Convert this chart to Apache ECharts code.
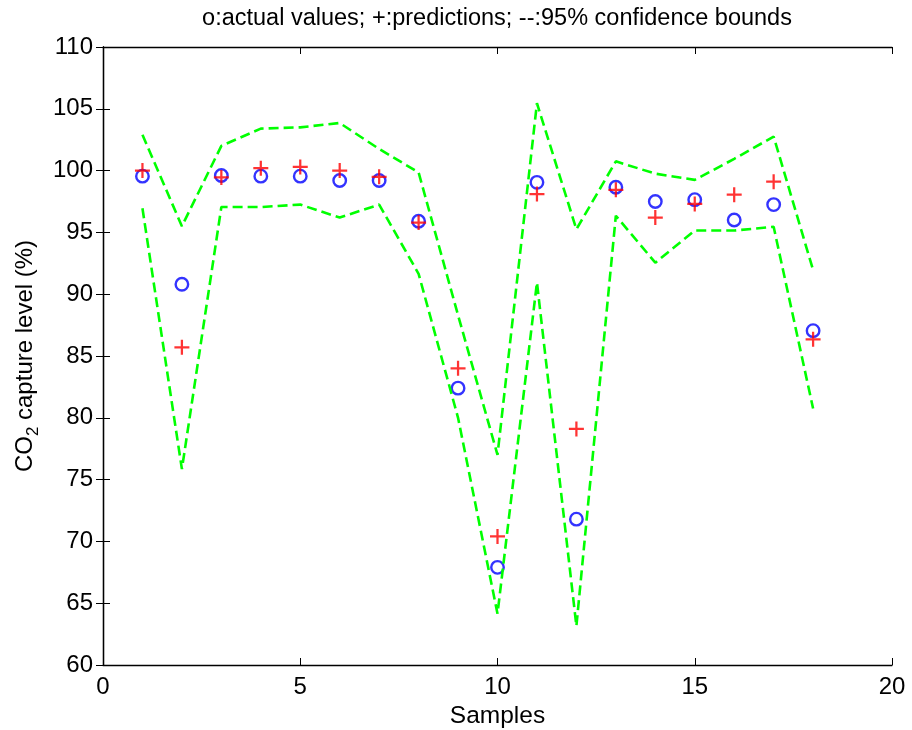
<!DOCTYPE html>
<html>
<head>
<meta charset="utf-8">
<script src="https://cdn.jsdelivr.net/npm/echarts@6/dist/echarts.min.js"></script>
<style>
  html, body { margin: 0; padding: 0; background: #fff; }
  #chart { width: 912px; height: 730px; }
</style>
</head>
<body>
<div id="chart"></div>
<script>
// Sample indices along the x axis
var samples = [1, 2, 3, 4, 5, 6, 7, 8, 9, 10, 11, 12, 13, 14, 15, 16, 17, 18];
// Measured CO2 capture level (%)
var actualValues = [99.55, 90.8, 99.6, 99.55, 99.55, 99.2, 99.2, 95.9, 82.4, 67.9, 99.05, 71.8, 98.65, 97.5, 97.65, 96.0, 97.25, 87.05];
// Model predictions (%)
var predictions = [100.0, 85.7, 99.45, 100.2, 100.3, 100.0, 99.5, 95.8, 84.0, 70.4, 98.1, 79.1, 98.45, 96.2, 97.3, 98.05, 99.1, 86.35];
// 95% confidence bounds (%)
var upperBound = [102.9, 95.5, 102.0, 103.4, 103.5, 103.85, 101.75, 99.85, 88.3, 77.0, 105.45, 95.25, 100.75, 99.75, 99.25, 100.95, 102.75, 91.95];
var lowerBound = [96.95, 75.85, 97.05, 97.05, 97.25, 96.2, 97.25, 91.65, 80.0, 64.15, 90.95, 63.15, 96.35, 92.55, 95.15, 95.15, 95.45, 80.75];
// Axis tick settings
var xTicks = [0, 5, 10, 15, 20];
var yTicks = [60, 65, 70, 75, 80, 85, 90, 95, 100, 105, 110];

function pairs(xs, ys) {
  return xs.map(function (x, i) { return [x, ys[i]]; });
}

var FONT = '"Liberation Sans", Arial, Helvetica, sans-serif';
var PLUS = 'path://M0,8.5H8.5V0H11.5V8.5H20V11.5H11.5V20H8.5V11.5H0Z';

var xMin = xTicks[0], xMax = xTicks[xTicks.length - 1], xStep = xTicks[1] - xTicks[0];
var yMin = yTicks[0], yMax = yTicks[yTicks.length - 1], yStep = yTicks[1] - yTicks[0];

var axisLine = { show: true, lineStyle: { color: '#000', width: 1.3 } };
var tick = { show: true, inside: true, length: 7, lineStyle: { color: '#000', width: 1 } };

var chart = echarts.init(document.getElementById('chart'), null, { renderer: 'canvas' });
chart.setOption({
  animation: false,
  backgroundColor: '#fff',
  title: {
    text: 'o:actual values; +:predictions; --:95% confidence bounds',
    left: 492,
    top: 2,
    textAlign: 'center',
    textStyle: { fontFamily: FONT, fontSize: 23.5, fontWeight: 'normal', color: '#000' }
  },
  grid: { left: 103, right: 20, top: 47, bottom: 65, outerBoundsMode: 'none', containLabel: false },
  xAxis: [
    {
      type: 'value', min: xMin, max: xMax, interval: xStep, position: 'bottom',
      name: 'Samples', nameLocation: 'middle', nameGap: 37,
      nameTextStyle: { fontFamily: FONT, fontSize: 24.5, color: '#000' },
      axisLine: axisLine, axisTick: tick, splitLine: { show: false },
      axisLabel: { fontFamily: FONT, fontSize: 24, color: '#000', margin: 10 }
    },
    {
      type: 'value', min: xMin, max: xMax, interval: xStep, position: 'top',
      axisLine: axisLine, axisTick: tick, splitLine: { show: false },
      axisLabel: { show: false }
    }
  ],
  yAxis: [
    {
      type: 'value', min: yMin, max: yMax, interval: yStep, position: 'left',
      name: '{n|CO}{s|2}{n| capture level (%)}', nameLocation: 'middle', nameGap: 60,
      nameRotate: 90,
      nameTextStyle: {
        fontFamily: FONT, color: '#000',
        rich: {
          n: { fontFamily: FONT, fontSize: 24, color: '#000', lineHeight: 34 },
          s: { fontFamily: FONT, fontSize: 17, color: '#000', lineHeight: 34, verticalAlign: 'bottom', padding: [20, 0, 0, 0] }
        }
      },
      axisLine: axisLine, axisTick: tick, splitLine: { show: false },
      axisLabel: { fontFamily: FONT, fontSize: 24, color: '#000', margin: 10 }
    },
    {
      type: 'value', min: yMin, max: yMax, interval: yStep, position: 'right',
      axisLine: axisLine, axisTick: tick, splitLine: { show: false },
      axisLabel: { show: false }
    }
  ],
  series: [
    {
      name: 'upper', type: 'line', data: pairs(samples, upperBound),
      symbol: 'none', silent: true,
      lineStyle: { color: '#00ff00', width: 2.6, type: [10, 5] }
    },
    {
      name: 'lower', type: 'line', data: pairs(samples, lowerBound),
      symbol: 'none', silent: true,
      lineStyle: { color: '#00ff00', width: 2.6, type: [10, 5] }
    },
    {
      name: 'actual', type: 'scatter', data: pairs(samples, actualValues),
      symbol: 'circle', symbolSize: 12.5,
      itemStyle: { color: 'rgba(0,0,0,0)', borderColor: '#0000ff', borderWidth: 2.4 }
    },
    {
      name: 'predicted', type: 'scatter', data: pairs(samples, predictions),
      symbol: PLUS, symbolSize: 15,
      itemStyle: { color: '#ff0000' }
    }
  ]
});
</script>
</body>
</html>
